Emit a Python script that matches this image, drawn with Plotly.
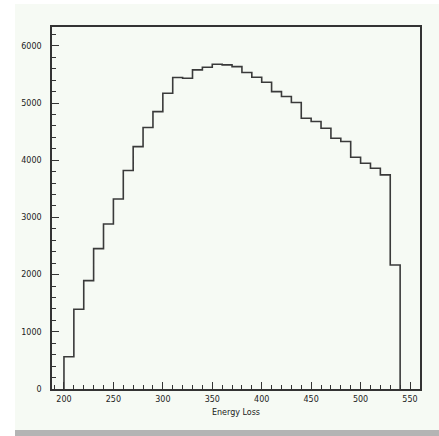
import plotly.graph_objects as go

bin_start = 200
bin_width = 10
counts = [565, 1393, 1895, 2454, 2886, 3323, 3819, 4238, 4571, 4850,
          5171, 5445, 5433, 5579, 5626, 5678, 5667, 5637, 5533, 5451,
          5364, 5200, 5113, 5008, 4734, 4676, 4559, 4384, 4326, 4052,
          3947, 3859, 3743, 2169]
x_ticks = [200, 250, 300, 350, 400, 450, 500, 550]
y_ticks = [0, 1000, 2000, 3000, 4000, 5000, 6000]
x_title = "Energy Loss"

edges = [bin_start + i * bin_width for i in range(len(counts) + 1)]
xs = [edges[0]] + edges + [edges[-1]]
ys = [0] + counts + [counts[-1], 0]

W, H = 439, 436
ml, mr, mt, mb = 52, 19, 27, 47
pw = W - ml - mr
ph = H - mt - mb


def px(x):
    return (x - ml) / pw


def py(y):
    return (H - mb - y) / ph


fig = go.Figure()
fig.add_trace(go.Scatter(x=xs, y=ys, mode="lines", line=dict(shape="hv", color="#3a3a3a", width=1.6),
                         hoverinfo="skip", showlegend=False))

bg = "#f6faf4"
fig.update_layout(
    width=W, height=H,
    margin=dict(l=ml, r=mr, t=mt, b=mb),
    paper_bgcolor=bg, plot_bgcolor=bg,
    font=dict(family="DejaVu Sans", size=8, color="#222"),
    shapes=[
        dict(type="rect", xref="paper", yref="paper", x0=px(0), x1=px(15),
             y0=py(H), y1=py(0), fillcolor="white", line=dict(width=0), layer="below"),
        dict(type="rect", xref="paper", yref="paper", x0=px(0), x1=px(W),
             y0=py(4), y1=py(0), fillcolor="white", line=dict(width=0), layer="below"),
        dict(type="rect", xref="paper", yref="paper", x0=px(15), x1=px(W),
             y0=py(H), y1=py(430), fillcolor="#b4b4b4", line=dict(width=0)),
    ],
)
fig.update_xaxes(range=[187.9, 560.1], tickvals=x_ticks, ticktext=[str(v) for v in x_ticks],
                 ticks="inside", ticklen=7, tickwidth=1, tickcolor="#333",
                 minor=dict(dtick=10, tick0=200, ticks="inside", ticklen=4, tickcolor="#333", tickwidth=1),
                 showline=True, linecolor="#333", linewidth=1.5, mirror=True,
                 showgrid=False, zeroline=False, ticklabelstandoff=2,
                 title=dict(text=x_title, font=dict(size=8), standoff=6),
                 tickfont=dict(size=8))
fig.update_yaxes(range=[0, 6329], tickvals=y_ticks, ticktext=[str(v) for v in y_ticks],
                 ticks="inside", ticklen=7, tickwidth=1, tickcolor="#333",
                 minor=dict(dtick=200, tick0=0, ticks="inside", ticklen=4, tickcolor="#333", tickwidth=1),
                 showline=True, linecolor="#333", linewidth=1.5, mirror=True,
                 showgrid=False, zeroline=False, ticklabelstandoff=7, tickfont=dict(size=8))

fig.write_html("out.html", config={"displayModeBar": False},
               post_script="document.body.style.margin='0';document.body.style.overflow='hidden';")
